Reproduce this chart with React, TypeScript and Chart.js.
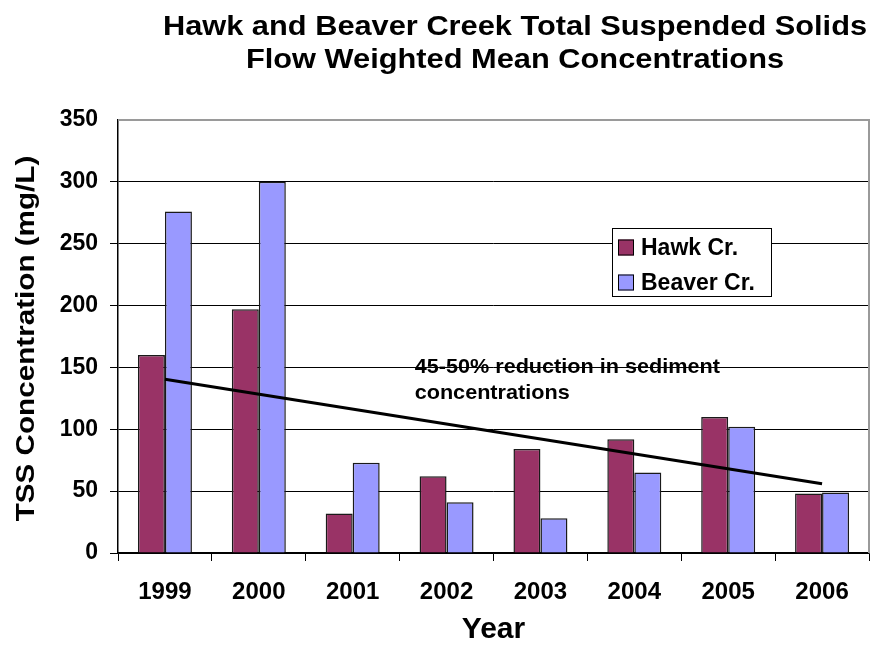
import React, { useEffect, useRef } from 'react';
import { Chart, registerables } from 'chart.js';

Chart.register(...registerables);

// Flow weighted mean TSS concentrations (mg/L) by year
const years = ['1999', '2000', '2001', '2002', '2003', '2004', '2005', '2006'];
const hawkCreek = [160, 197, 32, 62, 84, 92, 110, 48];
const beaverCreek = [276, 300, 73, 41, 28, 65, 102, 49];
// Overall trend, first year to last year
const trendLine = [140.5, null, null, null, null, null, null, 56];

const yMin = 0;
const yMax = 350;
const yStep = 50;

const titleLines = ['Hawk and Beaver Creek Total Suspended Solids', 'Flow Weighted Mean Concentrations'];
const yAxisTitle = 'TSS Concentration (mg/L)';
const xAxisTitle = 'Year';
const noteLines = ['45-50% reduction in sediment', 'concentrations'];
// Values on the y scale where each note line sits
const noteLevels = [150, 129];
const seriesNames = ['Hawk Cr.', 'Beaver Cr.'];
const seriesColors = ['#993366', '#9999FF'];

const FONT = 'Arial, "Liberation Sans", Helvetica, sans-serif';

// Text in this chart is set slightly wide, so draw it with a horizontal stretch
function wideText(ctx: any, text: string, x: number, y: number, stretch: number, rotate = 0) {
  ctx.save();
  ctx.translate(x, y);
  if (rotate) ctx.rotate(rotate);
  ctx.scale(stretch, 1);
  ctx.fillText(text, 0, 0);
  ctx.restore();
}

const titlePlugin = {
  id: 'stretchedTitles',
  afterDraw(chart: any) {
    const { ctx, chartArea } = chart;
    ctx.save();
    ctx.fillStyle = '#000';
    ctx.textAlign = 'center';
    ctx.textBaseline = 'middle';
    ctx.font = `bold 27px ${FONT}`;
    const ys = [28, 61];
    titleLines.forEach((line, i) => wideText(ctx, line, 515, ys[i], 1.14));

    ctx.font = `bold 26px ${FONT}`;
    wideText(ctx, yAxisTitle, 27, (chartArea.top + chartArea.bottom) / 2 + 2, 1.14, -Math.PI / 2);
    ctx.restore();
  },
};

const frameAndNotesPlugin = {
  id: 'frameAndNotes',
  beforeDatasetsDraw(chart: any) {
    const { ctx, chartArea } = chart;
    ctx.save();
    ctx.strokeStyle = '#9a9a9a';
    ctx.lineWidth = 2;
    ctx.beginPath();
    ctx.moveTo(chartArea.left, chartArea.top);
    ctx.lineTo(chartArea.right, chartArea.top);
    ctx.lineTo(chartArea.right, chartArea.bottom);
    ctx.stroke();
    ctx.restore();
  },
  afterDatasetsDraw(chart: any) {
    const { ctx, chartArea, scales } = chart;
    // note text
    ctx.save();
    ctx.fillStyle = '#000';
    ctx.font = `bold 21px ${FONT}`;
    ctx.textAlign = 'left';
    ctx.textBaseline = 'middle';
    const noteX = chartArea.left + (chartArea.right - chartArea.left) * 0.395;
    noteLines.forEach((line, i) => {
      wideText(ctx, line, noteX, scales.y.getPixelForValue(noteLevels[i]), 1.03);
    });
    ctx.restore();

    // legend box
    const boxW = 159;
    const boxH = 68;
    const bx = chartArea.right - 257;
    const by = chartArea.top + 108;
    ctx.save();
    ctx.fillStyle = '#fff';
    ctx.fillRect(bx, by, boxW, boxH);
    ctx.strokeStyle = '#000';
    ctx.lineWidth = 1;
    ctx.strokeRect(bx + 0.5, by + 0.5, boxW, boxH);
    ctx.font = `bold 23px ${FONT}`;
    ctx.textAlign = 'left';
    ctx.textBaseline = 'middle';
    seriesNames.forEach((name, i) => {
      const cy = by + 19.5 + i * 35;
      ctx.fillStyle = seriesColors[i];
      ctx.fillRect(bx + 6, cy - 8, 16, 16);
      ctx.strokeStyle = '#000';
      ctx.lineWidth = 1;
      ctx.strokeRect(bx + 6.5, cy - 7.5, 15, 15);
      ctx.fillStyle = '#000';
      ctx.fillText(name, bx + 29, cy + 1);
    });
    ctx.restore();
  },
};

export default function App() {
  const canvasRef = useRef<HTMLCanvasElement | null>(null);

  useEffect(() => {
    if (!canvasRef.current) return;
    const chart = new Chart(canvasRef.current, {
      type: 'bar',
      data: {
        labels: years,
        datasets: [
          {
            type: 'line',
            label: 'Trend',
            data: trendLine as any,
            borderColor: '#000',
            borderWidth: 3,
            pointRadius: 0,
            spanGaps: true,
            fill: false,
            order: 0,
          } as any,
          {
            label: seriesNames[0],
            data: hawkCreek,
            backgroundColor: seriesColors[0],
            borderColor: '#1a1a1a',
            borderWidth: 1.5,
            categoryPercentage: 0.575,
            barPercentage: 1,
            order: 1,
          },
          {
            label: seriesNames[1],
            data: beaverCreek,
            backgroundColor: seriesColors[1],
            borderColor: '#1a1a1a',
            borderWidth: 1.5,
            categoryPercentage: 0.575,
            barPercentage: 1,
            order: 1,
          },
        ],
      },
      options: {
        responsive: false,
        animation: false,
        layout: { padding: { top: 120, right: 13, left: 0, bottom: 0 } },
        plugins: {
          legend: { display: false },
          title: { display: false },
          tooltip: { enabled: false },
        },
        scales: {
          x: {
            afterFit(scale: any) {
              scale.height = 95;
            },
            grid: {
              display: true,
              offset: true,
              drawOnChartArea: false,
              drawTicks: true,
              tickLength: 8,
              color: '#000',
              lineWidth: 1,
            },
            border: { display: true, color: '#000', width: 1.5 },
            ticks: {
              color: '#000',
              padding: 17,
              font: { family: FONT, size: 24, weight: 'bold' },
              maxRotation: 0,
            },
            title: {
              display: true,
              text: xAxisTitle,
              color: '#000',
              padding: { top: 0, bottom: 0 },
              font: { family: FONT, size: 30, weight: 'bold', lineHeight: 1.2 },
            },
          },
          y: {
            min: yMin,
            max: yMax,
            afterFit(scale: any) {
              scale.width = 118;
            },
            ticks: {
              stepSize: yStep,
              color: '#000',
              padding: 12,
              font: { family: FONT, size: 23, weight: 'bold' },
            },
            grid: {
              color: (c: any) => (c.tick && c.tick.value === yMax ? 'rgba(0,0,0,0)' : '#000'),
              lineWidth: 1,
              tickLength: 8,
              drawTicks: true,
            },
            border: { display: true, color: '#000', width: 1.5 },
            title: { display: false },
          },
        },
      },
      plugins: [titlePlugin, frameAndNotesPlugin],
    });
    return () => chart.destroy();
  }, []);

  return (
    <div style={{ position: 'fixed', left: 0, top: 0, width: 882, height: 648, background: '#fff' }}>
      <canvas ref={canvasRef} width={882} height={648} style={{ display: 'block' }} />
    </div>
  );
}
